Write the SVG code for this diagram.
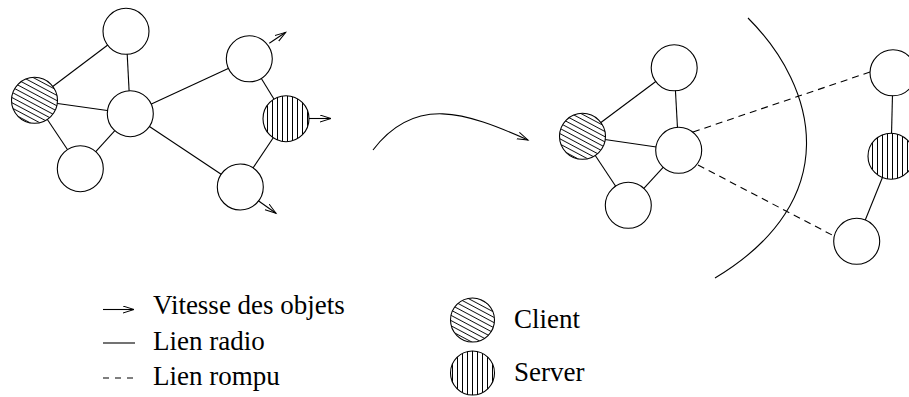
<svg xmlns="http://www.w3.org/2000/svg" width="909" height="397" viewBox="0 0 909 397">
<style>
.n{fill:#fff;stroke:#000;stroke-width:1.1}
.c{fill:url(#hatchC);stroke:#000;stroke-width:1.1}
.s{fill:url(#hatchS);stroke:#000;stroke-width:1.1}
.e{stroke:#000;stroke-width:1.1;fill:none}
.d{stroke:#000;stroke-width:1.1;fill:none;stroke-dasharray:7 5}
.a{stroke:#000;stroke-width:1.1;fill:none;marker-end:url(#arr)}
.t{font-family:"Liberation Serif","Times New Roman",serif;font-size:27px;fill:#000}
</style>
<defs>
<pattern id="hatchC" patternUnits="userSpaceOnUse" width="10" height="4.6" patternTransform="rotate(28)">
<rect width="10" height="4.6" fill="#fff"/>
<line x1="0" y1="2.3" x2="10" y2="2.3" stroke="#000" stroke-width="0.9"/>
</pattern>
<pattern id="hatchS" patternUnits="userSpaceOnUse" width="5" height="10">
<rect width="5" height="10" fill="#fff"/>
<line x1="2.5" y1="0" x2="2.5" y2="10" stroke="#000" stroke-width="1"/>
</pattern>
<marker id="arr" markerUnits="userSpaceOnUse" markerWidth="14" markerHeight="10" refX="11" refY="4" orient="auto">
<path d="M0,0.5 L11,4 L0,7.5" fill="none" stroke="#000" stroke-width="1"/>
</marker>
</defs>

<g id="connectors">
<line class="e" x1="34.5" y1="100.3" x2="126" y2="31.3"/>
<line class="e" x1="34.5" y1="100.3" x2="130.3" y2="113.7"/>
<line class="e" x1="34.5" y1="100.3" x2="80.3" y2="168.7"/>
<line class="e" x1="126" y1="31.3" x2="130.3" y2="113.7"/>
<line class="e" x1="130.3" y1="113.7" x2="80.3" y2="168.7"/>
<line class="e" x1="130.3" y1="113.7" x2="249.3" y2="58.8"/>
<line class="e" x1="130.3" y1="113.7" x2="240.3" y2="187"/>
<line class="e" x1="249.3" y1="58.8" x2="286" y2="118.7"/>
<line class="e" x1="286" y1="118.7" x2="240.3" y2="187"/>
<line class="a" x1="269.3" y1="43.3" x2="285.7" y2="32.3"/>
<line class="a" x1="308.7" y1="118.5" x2="331" y2="118.5"/>
<line class="a" x1="258.3" y1="200.7" x2="276" y2="213.3"/>
<path class="a" d="M373,150 C415,95 465,112 528,140"/>
<line class="e" x1="582.5" y1="136.3" x2="674.2" y2="67.8"/>
<line class="e" x1="582.5" y1="136.3" x2="678.7" y2="150.3"/>
<line class="e" x1="582.5" y1="136.3" x2="628.3" y2="205.3"/>
<line class="e" x1="674.2" y1="67.8" x2="678.7" y2="150.3"/>
<line class="e" x1="678.7" y1="150.3" x2="628.3" y2="205.3"/>
<line class="e" x1="893" y1="72.8" x2="891" y2="156.2"/>
<line class="e" x1="891" y1="156.2" x2="856.7" y2="241.3"/>
<line class="d" x1="693" y1="132" x2="870" y2="72"/>
<line class="d" x1="698" y1="165" x2="834" y2="236"/>
<path class="e" d="M748,18 C818,88 845,200 715,278"/>
</g>

<g id="n-left-top"><circle class="n" cx="126" cy="31.3" r="23"/></g>
<g id="n-left-client"><circle class="c" cx="34.5" cy="100.3" r="23"/></g>
<g id="n-left-center"><circle class="n" cx="130.3" cy="113.7" r="23"/></g>
<g id="n-left-bottom"><circle class="n" cx="80.3" cy="168.7" r="23"/></g>
<g id="n-left-rtop"><circle class="n" cx="249.3" cy="58.8" r="23"/></g>
<g id="n-left-server"><circle class="s" cx="286" cy="118.7" r="23"/></g>
<g id="n-left-rbottom"><circle class="n" cx="240.3" cy="187" r="23"/></g>

<g id="n-right-top"><circle class="n" cx="674.2" cy="67.8" r="23"/></g>
<g id="n-right-client"><circle class="c" cx="582.5" cy="136.3" r="23"/></g>
<g id="n-right-center"><circle class="n" cx="678.7" cy="150.3" r="23"/></g>
<g id="n-right-bottom"><circle class="n" cx="628.3" cy="205.3" r="23"/></g>
<g id="n-right-rtop"><circle class="n" cx="893" cy="72.8" r="23"/></g>
<g id="n-right-server"><circle class="s" cx="891" cy="156.2" r="23"/></g>
<g id="n-right-rbottom"><circle class="n" cx="856.7" cy="241.3" r="23"/></g>

<g id="legend">
<line class="a" x1="103" y1="309.5" x2="134" y2="309.5"/>
<text class="t" font-family="Liberation Serif, serif" x="153" y="314">Vitesse des objets</text>
<line class="e" x1="103" y1="343" x2="135" y2="343"/>
<text class="t" font-family="Liberation Serif, serif" x="153" y="350">Lien radio</text>
<line class="d" x1="103" y1="378" x2="135" y2="378" style="stroke-dasharray:6 6"/>
<text class="t" font-family="Liberation Serif, serif" x="153" y="385">Lien rompu</text>
<g id="legend-client"><circle class="c" cx="472.5" cy="320" r="22"/>
<text class="t" font-family="Liberation Serif, serif" x="514" y="328">Client</text></g>
<g id="legend-server"><circle class="s" cx="472.5" cy="373" r="22"/>
<text class="t" font-family="Liberation Serif, serif" x="514" y="381">Server</text></g>
</g>
</svg>
